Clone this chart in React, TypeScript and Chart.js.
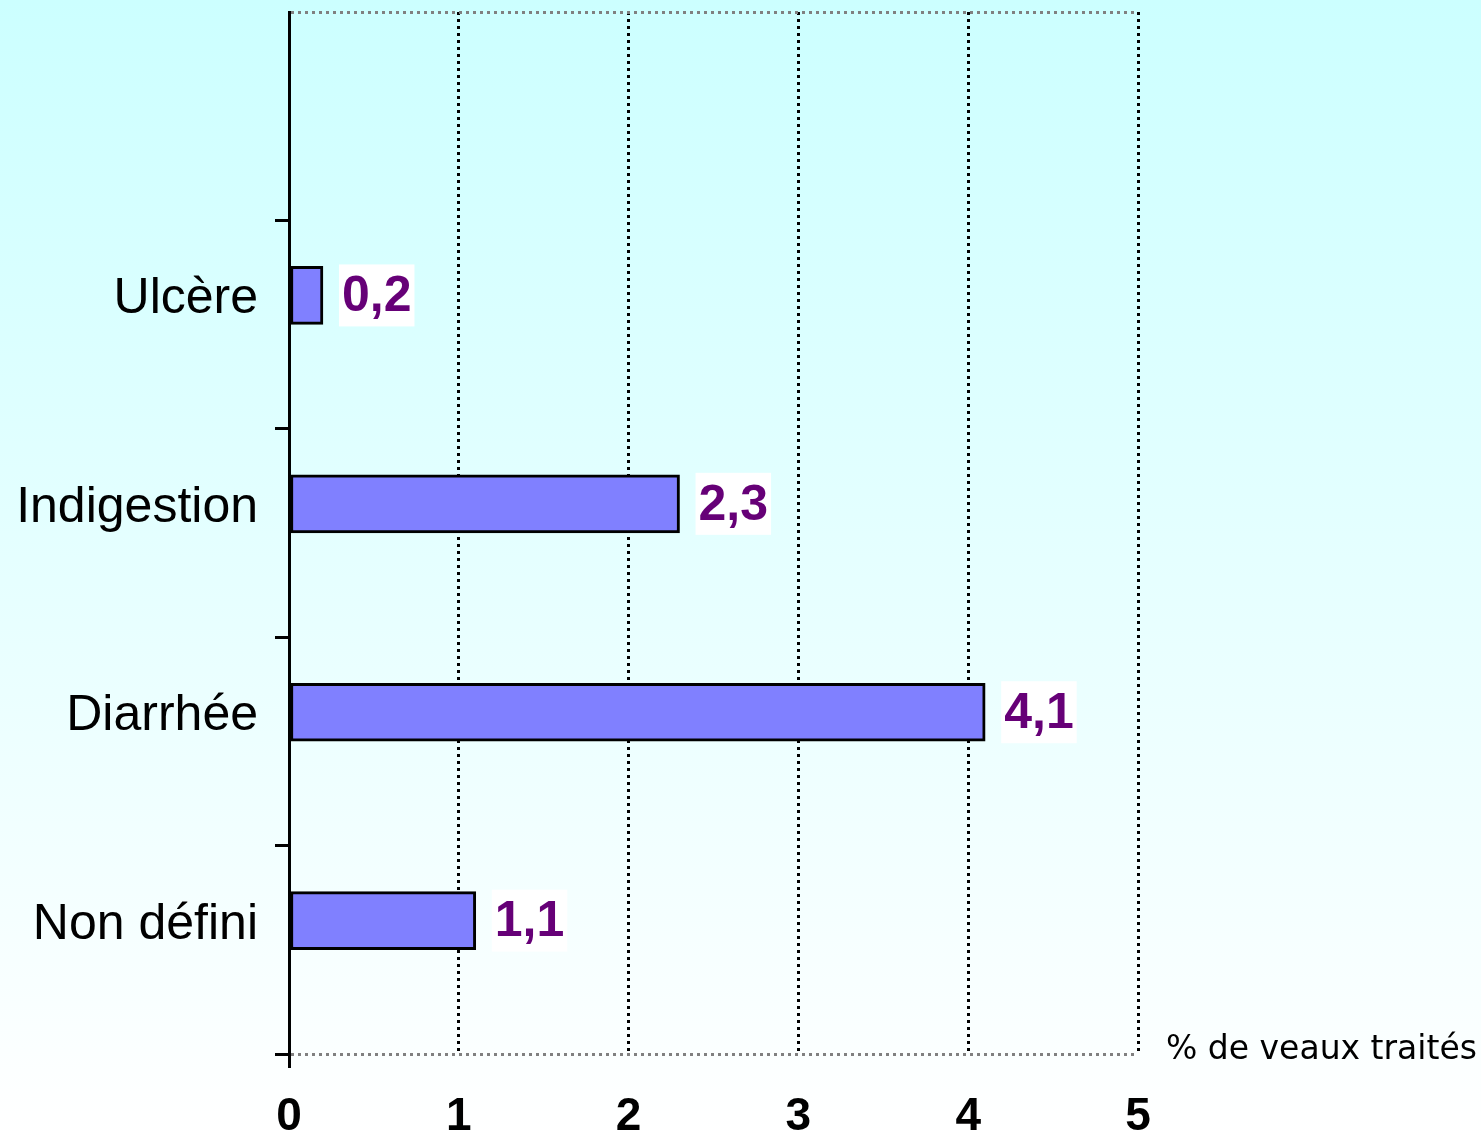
import React, { useEffect, useRef } from "react";
import { Chart, registerables } from "chart.js";

Chart.register(...registerables);

// ---- data ----
const CATEGORIES: string[] = ["", "Ulcère", "Indigestion", "Diarrhée", "Non défini"];
const VALUES: (number | null)[] = [null, 0.2, 2.3, 4.1, 1.1];
const VALUE_LABELS: string[] = ["", "0,2", "2,3", "4,1", "1,1"];
const X_MIN = 0;
const X_MAX = 5;
const X_TITLE = "% de veaux traités";

const W = 1481;
const H = 1138;

const valueLabelPlugin = {
  id: "valueLabels",
  afterDatasetsDraw(chart: any) {
    const ctx = chart.ctx;
    const meta = chart.getDatasetMeta(0);
    const data = chart.data.datasets[0].data as any[];
    ctx.save();
    ctx.font = 'bold 50px "Liberation Sans", Arial, sans-serif';
    ctx.textBaseline = "middle";
    ctx.textAlign = "left";
    meta.data.forEach((bar: any, i: number) => {
      const text = VALUE_LABELS[data[i].y];
      if (!text) return;
      const w = ctx.measureText(text).width;
      const bx = bar.x + 16;
      ctx.fillStyle = "#ffffff";
      ctx.fillRect(bx, bar.y - 31, w + 6, 62);
      ctx.fillStyle = "#660077";
      ctx.fillText(text, bx + 3, bar.y + 2);
    });
    ctx.restore();
  },
};

const axisTitlePlugin = {
  id: "axisTitle",
  afterDraw(chart: any) {
    const ctx = chart.ctx;
    const area = chart.chartArea;
    ctx.save();
    ctx.font = '33px "DejaVu Sans", Tahoma, sans-serif';
    ctx.fillStyle = "#000000";
    ctx.textAlign = "left";
    ctx.textBaseline = "alphabetic";
    ctx.fillText(X_TITLE, area.right + 28, area.bottom + 5);
    ctx.restore();
  },
};

export default function App() {
  const canvasRef = useRef<HTMLCanvasElement | null>(null);

  useEffect(() => {
    document.body.style.margin = "0";
    const canvas = canvasRef.current;
    if (!canvas) return;
    const points = VALUES.map((v, i) => (v == null ? null : { x: v, y: i })).filter(
      (p) => p !== null
    ) as { x: number; y: number }[];

    const chart = new Chart(canvas, {
      type: "bar",
      data: {
        datasets: [
          {
            data: points as any,
            xAxisID: "x",
            yAxisID: "yb",
            backgroundColor: "#8080ff",
            borderColor: "#000000",
            borderWidth: 3,
            borderSkipped: false,
            barThickness: 58,
          },
        ],
      },
      options: {
        indexAxis: "y",
        responsive: false,
        animation: false,
        events: [],
        layout: { padding: { left: 0, top: 12, right: W - 1138, bottom: 0 } },
        plugins: {
          legend: { display: false },
          tooltip: { enabled: false },
          title: { display: false },
        },
        scales: {
          x: {
            type: "linear",
            position: "bottom",
            min: X_MIN,
            max: X_MAX,
            ticks: {
              stepSize: 1,
              padding: 22,
              color: "#000000",
              font: { family: '"Liberation Sans", Arial, sans-serif', size: 46, weight: "bold" },
              callback: (v: any) => String(v),
            },
            grid: {
              color: (c: any) => (c.tick && c.tick.value === 0 ? "rgba(0,0,0,0)" : "#000000"),
              lineWidth: 3,
              tickColor: (c: any) => (c.tick && c.tick.value === 0 ? "#000000" : "rgba(0,0,0,0)"),
              tickWidth: 3,
              tickLength: 14,
              tickBorderDash: [],
            } as any,
            border: { display: false, color: "#808080", width: 3, dash: [3, 4] },
            afterFit: (s: any) => {
              s.height = H - 1054;
              s.paddingLeft = 0;
              s.paddingRight = 0;
            },
          },
          y: {
            type: "category",
            position: "left",
            labels: CATEGORIES,
            offset: true,
            ticks: {
              color: "#000000",
              padding: 17,
              labelOffset: -25,
              font: { family: '"Liberation Sans", Arial, sans-serif', size: 50, lineHeight: 1 },
            },
            grid: {
              offset: true,
              color: (c: any) =>
                c.type === "scale" || c.index === 0 ? "#808080" : "rgba(0,0,0,0)",
              lineWidth: 3,
              tickColor: (c: any) => (c.index === 0 ? "rgba(0,0,0,0)" : "#000000"),
              tickWidth: 3,
              tickLength: 14,
              tickBorderDash: [],
            } as any,
            border: { display: true, color: "#000000", width: 3, dash: [3, 4] },
            afterFit: (s: any) => {
              s.width = 289;
              s.paddingTop = 0;
              s.paddingBottom = 0;
            },
          },
          yb: {
            type: "linear",
            display: false,
            offset: false,
            reverse: true,
            min: -0.36,
            max: CATEGORIES.length - 0.36,
          },
        },
      } as any,
      plugins: [valueLabelPlugin, axisTitlePlugin],
    });
    return () => chart.destroy();
  }, []);

  return (
    <div
      style={{
        position: "absolute",
        left: 0,
        top: 0,
        width: W,
        height: H,
        background: "linear-gradient(180deg, #ccffff 0%, #ffffff 100%)",
      }}
    >
      <canvas ref={canvasRef} width={W} height={H} style={{ display: "block", width: W, height: H }} />
    </div>
  );
}
